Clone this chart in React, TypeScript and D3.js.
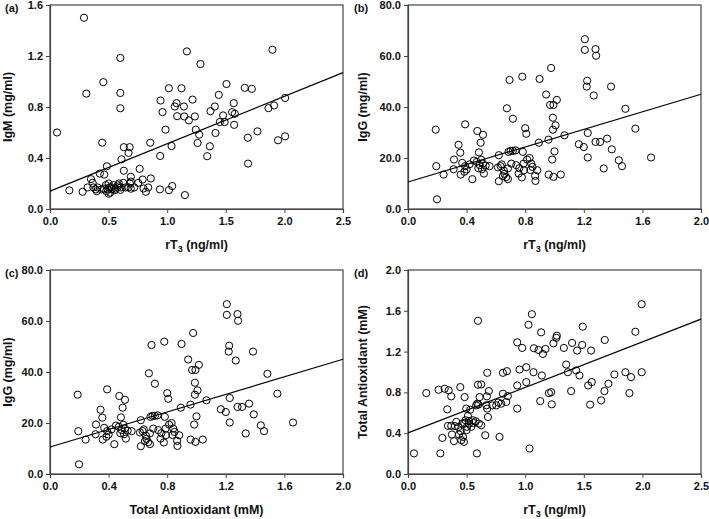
import { useEffect, useRef } from "react";
import * as d3 from "d3";

// (a) IgM vs rT3
const igmPoints: [number, number][] = [
  [0.29, 1.5], [0.06, 0.6], [0.31, 0.905], [0.455, 0.995], [0.6, 1.185], [0.6, 0.91], [0.6, 0.79],
  [0.445, 0.52], [0.63, 0.485], [0.68, 0.485], [0.67, 0.44], [0.61, 0.39], [0.485, 0.335], [0.63, 0.3],
  [0.855, 0.52], [0.765, 0.315], [0.425, 0.278], [0.463, 0.27], [0.35, 0.234], [0.69, 0.253], [0.69, 0.215],
  [0.79, 0.231], [0.86, 0.24], [0.165, 0.146], [0.278, 0.135], [0.321, 0.169], [0.364, 0.205], [0.37, 0.169],
  [0.39, 0.154], [0.406, 0.169], [0.44, 0.154], [0.477, 0.187], [0.492, 0.154], [0.506, 0.169], [0.514, 0.128],
  [0.526, 0.154], [0.54, 0.187], [0.554, 0.148], [0.577, 0.169], [0.588, 0.2], [0.605, 0.169], [0.625, 0.205],
  [0.645, 0.169], [0.682, 0.2], [0.69, 0.159], [0.719, 0.169], [0.753, 0.205], [0.798, 0.161], [0.818, 0.135],
  [0.838, 0.169], [0.938, 0.154], [1.015, 0.148], [1.043, 0.18], [1.151, 0.109],
  [0.5, 0.12], [0.48, 0.14], [0.52, 0.17], [0.56, 0.16], [0.58, 0.185], [0.46, 0.16], [0.4, 0.14], [0.5, 0.2],
  [0.67, 0.17], [0.6, 0.15],
  [1.014, 0.947], [0.943, 0.851], [0.96, 0.76], [1.065, 0.804], [1.08, 0.83], [1.142, 0.804], [1.122, 0.947],
  [1.085, 0.728], [1.145, 0.726], [1.185, 0.695], [1.216, 0.858], [1.236, 0.726], [1.168, 1.236], [1.284, 1.137],
  [0.986, 0.622], [0.94, 0.416], [1.037, 0.494], [1.244, 0.622], [1.273, 0.583], [1.259, 0.518], [1.341, 0.414],
  [1.364, 0.492], [1.369, 0.767], [1.406, 0.804], [1.412, 0.596], [1.44, 0.895], [1.449, 0.682], [1.477, 0.734],
  [1.49, 0.682], [1.506, 0.98], [1.554, 0.76], [1.568, 0.83], [1.577, 0.747], [1.571, 0.66], [1.662, 0.95],
  [1.722, 0.942], [1.688, 0.559], [1.69, 0.356], [1.77, 0.609], [1.864, 0.791], [1.912, 0.812], [2.006, 0.871],
  [1.898, 1.249], [1.946, 0.539], [2.006, 0.57],
];

// (b) and (c) IgG
const iggPoints: [number, number][] = [
  [0.189, 31.1], [0.193, 16.8], [0.198, 3.8], [0.243, 13.5], [0.314, 19.4], [0.311, 15.6], [0.345, 25.2],
  [0.357, 22.1], [0.36, 13.5], [0.39, 33.2], [0.37, 18.1], [0.39, 16.8], [0.385, 14.6], [0.4, 15.5], [0.42, 17.5],
  [0.439, 11.7], [0.45, 19.0], [0.473, 30.6], [0.496, 26.0], [0.512, 29.1], [0.484, 22.2], [0.47, 18.5],
  [0.49, 17.2], [0.5, 19.3], [0.48, 16.0], [0.505, 15.6], [0.518, 13.9], [0.511, 17.8], [0.53, 17.0],
  [0.557, 16.8], [0.614, 16.3], [0.62, 21.1], [0.62, 10.9], [0.632, 16.8], [0.64, 17.5], [0.648, 12.9],
  [0.658, 13.8], [0.655, 15.0], [0.67, 12.5], [0.675, 39.5], [0.686, 22.4], [0.693, 50.6], [0.716, 35.4],
  [0.7, 22.8], [0.716, 22.8], [0.734, 23.0], [0.682, 11.7], [0.682, 15.9], [0.705, 17.8], [0.739, 17.2],
  [0.755, 13.9], [0.76, 16.0], [0.78, 51.9], [0.784, 22.4], [0.8, 31.7], [0.807, 29.5], [0.789, 17.8],
  [0.777, 12.4], [0.791, 15.2], [0.813, 19.4], [0.83, 20.0], [0.841, 17.8], [0.836, 15.3], [0.85, 16.5],
  [0.868, 13.0], [0.87, 11.0], [0.882, 15.2], [0.898, 51.0], [0.893, 26.0], [0.943, 44.9], [0.959, 27.2],
  [0.96, 13.5], [0.977, 55.3], [0.97, 40.8], [0.993, 40.8], [0.989, 35.8], [0.989, 31.1], [0.984, 19.4],
  [0.993, 12.6], [1.0, 22.6], [1.007, 32.8], [1.016, 42.8], [1.043, 13.5], [1.068, 28.9], [1.166, 25.4],
  [1.2, 24.3], [1.207, 66.6], [1.207, 62.4], [1.223, 50.3], [1.22, 48.0], [1.227, 29.8], [1.227, 20.2],
  [1.28, 62.7], [1.284, 60.1], [1.268, 44.5], [1.28, 26.3], [1.311, 26.3], [1.336, 15.9], [1.359, 27.6],
  [1.386, 48.0], [1.391, 23.4], [1.439, 19.1], [1.461, 16.8], [1.484, 39.3], [1.552, 31.5], [1.659, 20.2],
];

// (d) Total antioxidant vs rT3
const taPoints: [number, number][] = [
  [0.051, 0.202], [0.156, 0.793], [0.261, 0.826], [0.276, 0.202], [0.293, 0.354], [0.313, 0.836], [0.335, 0.634],
  [0.347, 0.82], [0.341, 0.472], [0.369, 0.472], [0.369, 0.761], [0.375, 0.387], [0.392, 0.322], [0.412, 0.511],
  [0.435, 0.387], [0.446, 0.852], [0.455, 0.332], [0.463, 0.494], [0.469, 0.364], [0.477, 0.315], [0.483, 0.754],
  [0.491, 0.527], [0.497, 0.641], [0.503, 0.462], [0.52, 0.494], [0.511, 0.569], [0.53, 0.63], [0.54, 0.462],
  [0.554, 0.527], [0.577, 0.517], [0.582, 0.673], [0.591, 0.689], [0.597, 1.502], [0.597, 0.875], [0.588, 0.202],
  [0.605, 0.494], [0.611, 0.754], [0.625, 0.878], [0.625, 0.478], [0.6, 0.68], [0.659, 0.38], [0.668, 0.673],
  [0.673, 0.761], [0.676, 0.992], [0.676, 0.641], [0.682, 0.559], [0.69, 0.813], [0.719, 0.673], [0.753, 0.673],
  [0.77, 0.7], [0.781, 0.364], [0.795, 0.689], [0.81, 0.787], [0.81, 0.992], [0.844, 1.008], [0.838, 0.706],
  [0.852, 0.764], [0.932, 0.641], [0.932, 0.868], [0.932, 1.291], [0.952, 1.024], [0.974, 1.236], [1.009, 1.047],
  [1.009, 0.901], [1.028, 1.463], [1.037, 0.25], [1.057, 1.567], [1.071, 0.998], [1.074, 1.233], [1.114, 1.216],
  [1.136, 1.389], [1.142, 0.966], [1.128, 0.715], [1.151, 1.177], [1.173, 1.226], [1.202, 0.793], [1.222, 0.803],
  [1.227, 0.683], [1.241, 1.281], [1.27, 1.356], [1.265, 1.335], [1.33, 1.236], [1.35, 1.073], [1.364, 0.998],
  [1.392, 0.813], [1.4, 1.285], [1.435, 1.015], [1.443, 1.21], [1.463, 0.966], [1.486, 1.265], [1.491, 1.444],
  [1.537, 0.868], [1.554, 0.68], [1.562, 1.21], [1.568, 0.901], [1.648, 0.722], [1.676, 0.813], [1.679, 1.314],
  [1.71, 0.885], [1.761, 0.976], [1.855, 0.998], [1.889, 0.793], [1.903, 0.95], [1.94, 1.395], [1.994, 1.665],
  [1.994, 0.998],
  [0.45, 0.42], [0.48, 0.5], [0.5, 0.43], [0.52, 0.52], [0.56, 0.5], [0.43, 0.46], [0.4, 0.47],
];

// fitted lines: [intercept, slope]
const fitIgm = [0.14, 0.372];
const fitIgg = [10.6, 17.2];
const fitTa = [0.403, 0.446];

const ticksRt3 = [0, 0.5, 1.0, 1.5, 2.0, 2.5];
const ticksTwo = [0, 0.4, 0.8, 1.2, 1.6, 2.0];
const ticksIgm = [0, 0.4, 0.8, 1.2, 1.6];
const ticksIgg = [0, 20, 40, 60, 80];

const panels = [
  { tag: "(a)", left: 50, top: 5, pts: igmPoints, fit: fitIgm, xMax: 2.5, yMax: 1.6, xt: ticksRt3, yt: ticksIgm, xl: "rT3", yl: "IgM (mg/ml)" },
  { tag: "(b)", left: 408, top: 5, pts: iggPoints, fit: fitIgg, xMax: 2.0, yMax: 80, xt: ticksTwo, yt: ticksIgg, xl: "rT3", yl: "IgG (mg/ml)" },
  { tag: "(c)", left: 50, top: 270, pts: iggPoints, fit: fitIgg, xMax: 2.0, yMax: 80, xt: ticksTwo, yt: ticksIgg, xl: "Total Antioxidant (mM)", yl: "IgG (mg/ml)" },
  { tag: "(d)", left: 408, top: 270, pts: taPoints, fit: fitTa, xMax: 2.5, yMax: 2.0, xt: ticksRt3, yt: ticksTwo, xl: "rT3", yl: "Total Antioxidant (mM)" },
];

const W = 293;
const H = 204;
const FONT = "Liberation Sans, Arial, sans-serif";

export default function App() {
  const svgRef = useRef<SVGSVGElement>(null);

  useEffect(() => {
    const svg = d3.select(svgRef.current);
    svg.selectAll("*").remove();

    panels.forEach((p) => {
      const g = svg.append("g").attr("transform", `translate(${p.left},${p.top})`);
      const x = d3.scaleLinear().domain([0, p.xMax]).range([0, W]);
      const y = d3.scaleLinear().domain([0, p.yMax]).range([H, 0]);

      // frame
      g.append("rect").attr("width", W).attr("height", H).attr("fill", "none").attr("stroke", "#444").attr("stroke-width", 1.2);

      const xa = g.append("g").attr("transform", `translate(0,${H})`)
        .call(d3.axisBottom(x).tickValues(p.xt).tickFormat(d3.format(".1f")).tickSize(4).tickPadding(4));
      const ya = g.append("g")
        .call(d3.axisLeft(y).tickValues(p.yt).tickFormat(d3.format(".1f")).tickSize(4).tickPadding(3));
      [xa, ya].forEach((a) => {
        a.select(".domain").attr("stroke", "#444").attr("stroke-width", 1.2);
        a.selectAll(".tick line").attr("stroke", "#444");
        a.selectAll(".tick text").attr("font-family", FONT).attr("font-weight", "bold").attr("font-size", 11).attr("fill", "#111");
      });

      // regression line
      g.append("line")
        .attr("x1", x(0)).attr("y1", y(p.fit[0]))
        .attr("x2", x(p.xMax)).attr("y2", y(p.fit[0] + p.fit[1] * p.xMax))
        .attr("stroke", "#000").attr("stroke-width", 1.2);

      g.selectAll("circle.pt").data(p.pts).join("circle")
        .attr("class", "pt")
        .attr("cx", (d) => x(d[0])).attr("cy", (d) => y(d[1]))
        .attr("r", 3.6).attr("fill", "none").attr("stroke", "#000").attr("stroke-width", 1);

      // x title
      const xt = g.append("text").attr("x", W / 2).attr("y", H + 40).attr("text-anchor", "middle")
        .attr("font-family", FONT).attr("font-weight", "bold").attr("font-size", 12.5).attr("fill", "#111");
      if (p.xl === "rT3") {
        xt.append("tspan").text("rT");
        xt.append("tspan").text("3").attr("font-size", 9).attr("dy", 3);
        xt.append("tspan").text(" (ng/ml)").attr("dy", -3);
      } else {
        xt.text(p.xl);
      }

      // y title
      const yx = p.left < 100 ? -38 : -41;
      g.append("text").attr("transform", `translate(${yx},${H / 2}) rotate(-90)`).attr("text-anchor", "middle")
        .attr("font-family", FONT).attr("font-weight", "bold").attr("font-size", 12.5).attr("fill", "#111")
        .text(p.yl);

      // panel tag
      svg.append("text").attr("x", p.left < 100 ? 5 : 354).attr("y", p.top + 7)
        .attr("font-family", FONT).attr("font-weight", "bold").attr("font-size", 11).attr("fill", "#111")
        .text(p.tag);
    });
  }, []);

  return (
    <svg ref={svgRef} width={709} height={519} style={{ position: "absolute", left: 0, top: 0, background: "#fff" }} />
  );
}
